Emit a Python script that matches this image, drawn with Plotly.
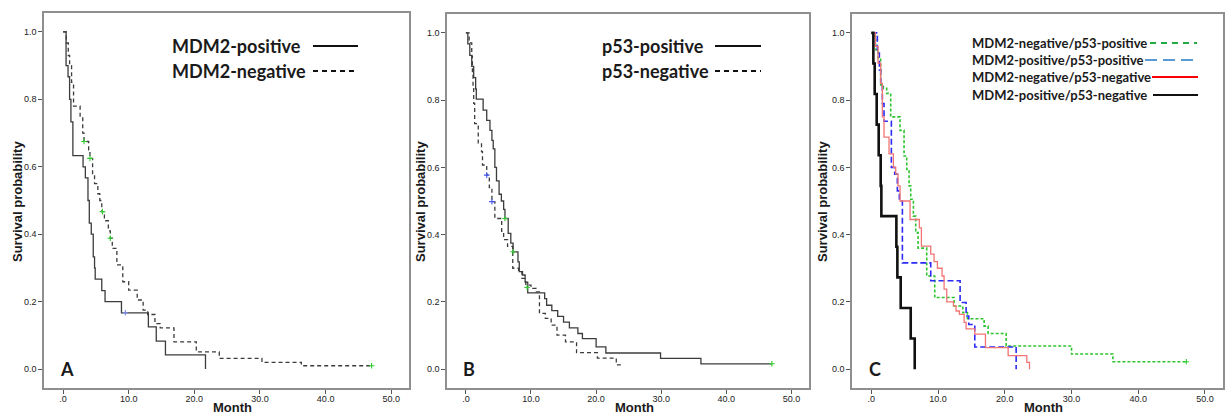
import plotly.graph_objects as go

# ---------------- data (Kaplan-Meier step points) ----------------
# Panel A
A_pos_t = [0, 0.46, 0.76, 1.0, 1.2, 1.5, 3.05, 3.4, 3.8, 4.0, 4.3, 4.6, 4.8, 4.9, 5.9, 6.4, 8.9, 13.0, 14.2, 15.6, 21.7]
A_pos_s = [1.0, 0.9, 0.867, 0.8, 0.733, 0.633, 0.6, 0.567, 0.5, 0.433, 0.4, 0.333, 0.3, 0.267, 0.233, 0.2, 0.167, 0.125, 0.083, 0.042, 0.0]
A_neg_t = [0, 0.5, 0.8, 1.0, 1.3, 1.6, 2.6, 3.0, 3.2, 3.9, 4.1, 4.5, 4.8, 5.3, 5.6, 5.9, 6.3, 6.9, 7.2, 7.5,
           8.2, 9.1, 10.0, 11.3, 12.2, 12.9, 14.0, 14.8, 16.9, 20.3, 23.8, 30.3, 36.3, 47.0]
A_neg_s = [1.0, 0.967, 0.93, 0.9, 0.85, 0.78, 0.75, 0.70, 0.675, 0.65, 0.625, 0.575, 0.55, 0.52, 0.5, 0.467, 0.44, 0.41, 0.388, 0.358,
           0.309, 0.259, 0.234, 0.205, 0.175, 0.162, 0.135, 0.122, 0.081, 0.051, 0.032, 0.02, 0.01, 0.01]
A_pos_cens_t = [9.5]
A_pos_cens_s = [0.167]
A_neg_cens_t = [3.2, 4.1, 6.0, 7.2, 47.0]
A_neg_cens_s = [0.675, 0.625, 0.467, 0.388, 0.01]

# Panel B
B_pos_t = [0, 0.3, 0.6, 0.9, 1.2, 1.5, 1.6, 2.65, 3.2, 3.7, 4.0, 4.2, 4.45, 4.7, 5.1, 5.45, 5.8, 6.0, 6.5, 6.9, 7.25,
           8.0, 8.2, 8.7, 9.1, 9.5, 12.1, 12.4, 13.2, 14.1, 15.0, 15.9, 17.2, 17.9, 20.0, 21.5, 29.9, 36.1, 47.0]
B_pos_s = [1.0, 0.967, 0.933, 0.9, 0.867, 0.833, 0.803, 0.77, 0.74, 0.71, 0.68, 0.655, 0.6, 0.56, 0.52, 0.5, 0.475, 0.448, 0.404, 0.375, 0.349,
           0.319, 0.29, 0.28, 0.259, 0.227, 0.21, 0.19, 0.174, 0.157, 0.14, 0.123, 0.106, 0.091, 0.066, 0.048, 0.032, 0.016, 0.016]
B_neg_t = [0, 0.5, 0.9, 1.0, 1.1, 1.2, 1.35, 1.9, 2.4, 2.55, 3.2, 3.6, 4.0, 4.45, 5.5, 5.8, 6.4, 7.2, 8.1, 8.6, 9.2, 10.0,
           10.8, 11.3, 12.2, 13.1, 14.0, 15.3, 17.0, 20.2, 23.1, 23.7]
B_neg_s = [1.0, 0.97, 0.93, 0.88, 0.84, 0.79, 0.73, 0.67, 0.647, 0.607, 0.577, 0.54, 0.498, 0.448, 0.41, 0.385, 0.365, 0.3, 0.29, 0.27, 0.25, 0.24,
           0.23, 0.166, 0.151, 0.131, 0.101, 0.081, 0.049, 0.033, 0.013, 0.005]
B_pos_cens_t = [6.0, 7.25, 9.4, 47.0]
B_pos_cens_s = [0.448, 0.349, 0.243, 0.016]
B_neg_cens_t = [3.2, 4.0]
B_neg_cens_s = [0.577, 0.498]

# Panel C
C_np_t = [0, 0.3, 0.65, 1.0, 1.4, 1.8, 2.3, 2.9, 4.3, 4.9, 5.3, 5.65, 5.9, 6.3, 6.65, 7.0, 8.3, 9.5, 12.4, 13.7, 14.4,
          16.9, 17.5, 20.2, 30.0, 36.2, 47.2]
C_np_s = [1.0, 0.99, 0.95, 0.925, 0.845, 0.835, 0.82, 0.75, 0.71, 0.634, 0.594, 0.545, 0.505, 0.455, 0.406, 0.36, 0.277, 0.213, 0.188, 0.168, 0.15,
          0.128, 0.106, 0.069, 0.045, 0.022, 0.022]
C_pp_t = [0, 0.9, 1.2, 1.4, 1.65, 1.9, 3.0, 3.5, 3.9, 4.2, 4.65, 8.9, 13.3, 14.2, 14.6, 15.5, 21.7]
C_pp_s = [1.0, 0.94, 0.89, 0.846, 0.79, 0.737, 0.6, 0.58, 0.53, 0.5, 0.316, 0.263, 0.198, 0.158, 0.133, 0.066, 0.0]
C_nn_t = [0, 0.6, 1.0, 1.4, 1.65, 1.9, 2.65, 3.3, 3.65, 4.0, 4.3, 5.8, 7.2, 7.5, 8.9, 9.4, 9.9, 10.6, 10.9, 11.3, 12.3,
          12.7, 13.2, 13.9, 14.2, 15.5, 17.1, 20.5, 23.3, 23.7]
C_nn_s = [1.0, 0.96, 0.91, 0.85, 0.75, 0.69, 0.64, 0.6, 0.58, 0.545, 0.5, 0.445, 0.42, 0.366, 0.342, 0.32, 0.3, 0.277, 0.238, 0.2, 0.188,
          0.173, 0.163, 0.139, 0.12, 0.104, 0.064, 0.04, 0.02, 0.0]
C_pn_t = [0, 0.3, 0.5, 0.8, 1.1, 1.4, 1.5, 3.75, 3.9, 4.4, 5.9, 6.5]
C_pn_s = [1.0, 0.909, 0.818, 0.727, 0.636, 0.545, 0.455, 0.364, 0.273, 0.182, 0.091, 0.0]
C_np_cens_t = [47.2]
C_np_cens_s = [0.022]

x_ticks = [0, 10, 20, 30, 40, 50]
x_ticktext = [".0", "10.0", "20.0", "30.0", "40.0", "50.0"]
y_ticks = [0.0, 0.2, 0.4, 0.6, 0.8, 1.0]
y_ticktext = ["0.0", "0.2", "0.4", "0.6", "0.8", "1.0"]

legA = ["MDM2-positive", "MDM2-negative"]
legB = ["p53-positive", "p53-negative"]
legC = ["MDM2-negative/p53-positive", "MDM2-positive/p53-positive",
        "MDM2-negative/p53-negative", "MDM2-positive/p53-negative"]
panel_letters = ["A", "B", "C"]
x_title = "Month"
y_title = "Survival probability"

# ---------------- figure ----------------
W, H = 1226, 417
def PX(x): return x / W
def PY(y): return 1 - y / H

fig = go.Figure()

def step(t, s, xa, ya, color, width, dash="solid"):
    fig.add_trace(go.Scatter(x=t, y=s, mode="lines", line=dict(shape="hv", color=color, width=width, dash=dash),
                             xaxis=xa, yaxis=ya, showlegend=False, hoverinfo="skip"))

def cens(t, s, xa, ya, color):
    fig.add_trace(go.Scatter(x=t, y=s, mode="markers",
                             marker=dict(symbol="cross-thin", size=4, line=dict(color=color, width=1.1)),
                             xaxis=xa, yaxis=ya, showlegend=False, hoverinfo="skip"))

GRAY = "#3c3c3c"
# A
step(A_pos_t, A_pos_s, "x", "y", GRAY, 1.3)
step(A_neg_t, A_neg_s, "x", "y", GRAY, 1.3, "4px,3px")
cens(A_pos_cens_t, A_pos_cens_s, "x", "y", "#7b8cf0")
cens(A_neg_cens_t, A_neg_cens_s, "x", "y", "#33cc33")
# B
step(B_pos_t, B_pos_s, "x2", "y2", GRAY, 1.3)
step(B_neg_t, B_neg_s, "x2", "y2", GRAY, 1.3, "4px,3px")
cens(B_pos_cens_t, B_pos_cens_s, "x2", "y2", "#33cc33")
cens(B_neg_cens_t, B_neg_cens_s, "x2", "y2", "#4455ee")
# C
step(C_np_t, C_np_s, "x3", "y3", "#2fc42f", 1.6, "3px,2px")
step(C_pp_t, C_pp_s, "x3", "y3", "#2b2bf5", 1.6, "6px,3px")
step(C_nn_t, C_nn_s, "x3", "y3", "#f27575", 1.3)
step(C_pn_t, C_pn_s, "x3", "y3", "#111111", 2.6)
cens(C_np_cens_t, C_np_cens_s, "x3", "y3", "#33cc33")

domains = [((44, 409), (13, 388)), ((447, 809), (14, 388)), ((852, 1223), (14, 388))]
axis_names = [("xaxis", "yaxis", "x", "y"), ("xaxis2", "yaxis2", "x2", "y2"), ("xaxis3", "yaxis3", "x3", "y3")]

layout = dict(width=W, height=H, margin=dict(l=0, r=0, t=0, b=0, pad=0, autoexpand=False),
              paper_bgcolor="white", plot_bgcolor="white", showlegend=False)
for (xd, yd), (xn, yn, xr, yr) in zip(domains, axis_names):
    layout[xn] = dict(domain=[PX(xd[0]), PX(xd[1])], range=[-2.9, 52.7], anchor=yr,
                      tickvals=x_ticks, ticktext=x_ticktext, ticks="outside", ticklen=4, tickwidth=1,
                      tickcolor="#555555", showline=True, mirror=True, linecolor="#8f8f8f", linewidth=1.6,
                      showgrid=False, zeroline=False, automargin=False, ticklabelstandoff=-3,
                      tickfont=dict(family="Liberation Sans, Arial", size=9, color="#222222"))
    layout[yn] = dict(domain=[PY(yd[1]), PY(yd[0])], range=[-0.056, 1.056], anchor=xr,
                      tickvals=y_ticks, ticktext=y_ticktext, ticks="outside", ticklen=4, tickwidth=1,
                      tickcolor="#555555", showline=True, mirror=True, linecolor="#8f8f8f", linewidth=1.6,
                      showgrid=False, zeroline=False, automargin=False,
                      tickfont=dict(family="Liberation Sans, Arial", size=9, color="#222222"))
fig.update_layout(**layout)

ann = []
shapes = []
TXT = "#1a1a1a"
# axis titles
for (xd, yd), xc_title in zip(domains, [17, 420, 822]):
    ann.append(dict(xref="paper", yref="paper", x=PX((xd[0] + xd[1]) / 2 + 6), y=0, text="<b>" + x_title + "</b>",
                    showarrow=False, font=dict(family="Liberation Sans, Arial", size=13, color=TXT),
                    xanchor="center", yanchor="bottom"))
    ann.append(dict(xref="paper", yref="paper", x=PX(xc_title), y=PY(202), text="<b>" + y_title + "</b>",
                    showarrow=False, textangle=-90, font=dict(family="Liberation Sans, Arial", size=13, color=TXT),
                    xanchor="center", yanchor="middle"))
# panel letters
for letter, (xr, yr) in zip(panel_letters, [("x", "y"), ("x2", "y2"), ("x3", "y3")]):
    ann.append(dict(xref=xr, yref=yr, x=-0.7, y=0.0, text="<b>" + letter + "</b>", showarrow=False,
                    font=dict(family="Lato", size=18, color=TXT), xanchor="left", yanchor="middle"))

# legends A & B
for labels, xl, x0, x1 in [(legA, 170, 313, 358), (legB, 600, 715, 761)]:
    for i, (lab, yy) in enumerate(zip(labels, [46, 71])):
        ann.append(dict(xref="paper", yref="paper", x=PX(xl), y=PY(yy), text="<b>" + lab + "</b>", showarrow=False,
                        font=dict(family="Lato", size=18, color=TXT), xanchor="left", yanchor="middle"))
        shapes.append(dict(type="line", xref="paper", yref="paper", x0=PX(x0), x1=PX(x1), y0=PY(yy), y1=PY(yy),
                           line=dict(color="#111111", width=2, dash="solid" if i == 0 else "5px,4px")))
# legend C
legC_style = [("#22aa44", "6px,5px", 1150, 1197, 43), ("#5b9bd5", "12px,6px", 1145, 1193, 60),
              ("#ff0000", "solid", 1152, 1198, 77), ("#111111", "solid", 1153, 1198, 95)]
for lab, (col, dsh, x0, x1, yy) in zip(legC, legC_style):
    ann.append(dict(xref="paper", yref="paper", x=PX(970), y=PY(yy), text="<b>" + lab + "</b>", showarrow=False,
                    font=dict(family="Lato", size=13, color=TXT), xanchor="left", yanchor="middle"))
    shapes.append(dict(type="line", xref="paper", yref="paper", x0=PX(x0), x1=PX(x1), y0=PY(yy), y1=PY(yy),
                       line=dict(color=col, width=2.2, dash=dsh)))

fig.update_layout(annotations=ann, shapes=shapes)
fig.write_html("out.html", config={"displayModeBar": False},
               post_script="document.body.style.margin='0px';document.body.style.overflow='hidden';")
